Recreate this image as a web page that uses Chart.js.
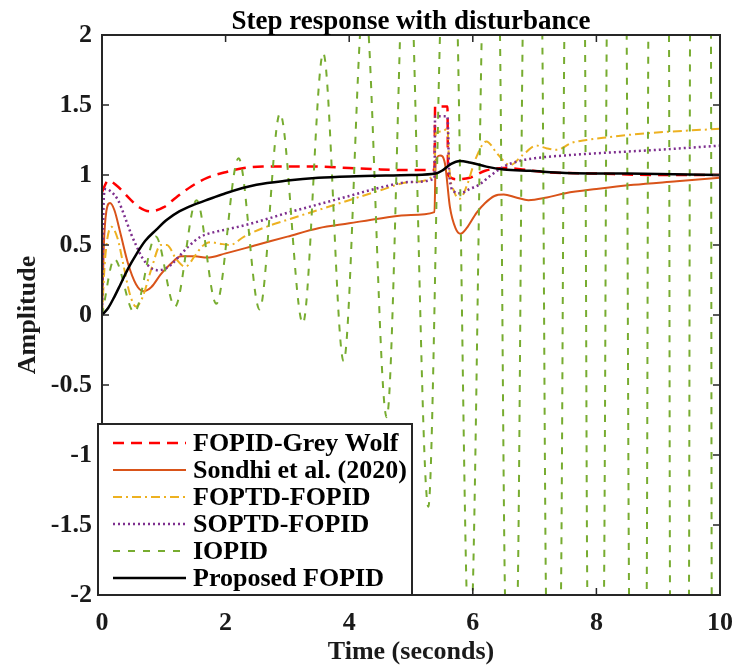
<!DOCTYPE html>
<html>
<head>
<meta charset="utf-8">
<title>Step response with disturbance</title>
<script src="https://cdn.jsdelivr.net/npm/chart.js@4.4.1/dist/chart.umd.min.js"></script>
<style>
  body { margin: 0; background: #fff; }
  canvas { display: block; }
</style>
</head>
<body>
<canvas id="grafico" width="732" height="665"></canvas>
<script>
const seriesNames = [
  "FOPID-Grey Wolf",
  "Sondhi et al. (2020)",
  "FOPTD-FOPID",
  "SOPTD-FOPID",
  "IOPID",
  "Proposed FOPID"
];

const xTicks = [0, 2, 4, 6, 8, 10];
const yTicks = [-2, -1.5, -1, -0.5, 0, 0.5, 1, 1.5, 2];

// FOPID-Grey Wolf
const tGreyWolf = [0, 0.1, 0.25, 0.45, 0.6, 0.78, 1.0, 1.2, 1.45, 1.7, 2.0, 2.3, 2.6, 3.0, 3.5, 4.0, 4.5, 5.0, 5.38, 5.39, 5.59, 5.6, 5.75, 5.95, 6.2, 6.5, 6.8, 7.2, 8.0, 9.0, 10];
const yGreyWolf = [0.88, 0.96, 0.92, 0.83, 0.77, 0.74, 0.77, 0.84, 0.92, 0.98, 1.02, 1.05, 1.06, 1.06, 1.06, 1.05, 1.04, 1.035, 1.035, 1.49, 1.49, 1.0, 0.97, 0.98, 1.03, 1.05, 1.04, 1.02, 1.01, 1.0, 1.0];

// Sondhi et al. (2020)
const tSondhi = [0, 0.03, 0.07, 0.13, 0.2, 0.3, 0.42, 0.55, 0.67, 0.8, 0.95, 1.1, 1.28, 1.5, 1.7, 2.0, 2.5, 3.0, 3.5, 4.0, 4.5, 5.0, 5.38, 5.4, 5.47, 5.55, 5.63, 5.72, 5.8, 5.9, 6.06, 6.2, 6.35, 6.5, 6.7, 6.9, 7.2, 7.5, 8.0, 8.6, 9.3, 10];
const ySondhi = [0, 0.5, 0.74, 0.80, 0.75, 0.58, 0.37, 0.22, 0.17, 0.2, 0.29, 0.36, 0.42, 0.42, 0.41, 0.44, 0.50, 0.56, 0.62, 0.655, 0.69, 0.715, 0.735, 1.10, 1.14, 1.08, 0.77, 0.62, 0.58, 0.62, 0.73, 0.80, 0.85, 0.86, 0.84, 0.82, 0.84, 0.87, 0.90, 0.93, 0.955, 0.98];

// FOPTD-FOPID
const tFoptd = [0, 0.05, 0.15, 0.25, 0.35, 0.45, 0.55, 0.65, 0.8, 0.95, 1.05, 1.2, 1.35, 1.5, 1.62, 1.75, 1.9, 2.07, 2.3, 2.6, 3.0, 3.5, 4.0, 4.5, 5.0, 5.38, 5.4, 5.5, 5.59, 5.62, 5.7, 5.79, 5.9, 6.05, 6.22, 6.4, 6.6, 6.8, 7.03, 7.2, 7.36, 7.6, 7.84, 8.2, 8.6, 9.2, 10];
const yFoptd = [0, 0.4, 0.63, 0.55, 0.35, 0.15, 0.06, 0.12, 0.33, 0.50, 0.50, 0.40, 0.345, 0.42, 0.49, 0.52, 0.51, 0.50, 0.56, 0.62, 0.68, 0.75, 0.82, 0.89, 0.95, 1.0, 1.30, 1.31, 1.33, 1.05, 0.88, 0.83, 0.92, 1.12, 1.24, 1.15, 1.07, 1.14, 1.21, 1.19, 1.18, 1.23, 1.25, 1.27, 1.29, 1.31, 1.33];

// SOPTD-FOPID
const tSoptd = [0, 0.03, 0.06, 0.15, 0.26, 0.37, 0.47, 0.56, 0.65, 0.78, 0.9, 1.02, 1.12, 1.25, 1.4, 1.6, 1.8, 2.0, 2.3, 2.7, 3.0, 3.5, 4.0, 4.5, 5.0, 5.38, 5.39, 5.59, 5.62, 5.7, 5.8, 5.95, 6.1, 6.3, 6.5, 6.75, 7.0, 7.5, 8.0, 9.0, 10];
const ySoptd = [0, 0.85, 0.90, 0.88, 0.82, 0.70, 0.58, 0.49, 0.41, 0.34, 0.32, 0.33, 0.36, 0.42, 0.49, 0.56, 0.59, 0.61, 0.64, 0.69, 0.73, 0.79, 0.85, 0.91, 0.95, 0.975, 1.42, 1.42, 1.0, 0.88, 0.87, 0.90, 0.93, 1.0, 1.06, 1.10, 1.12, 1.14, 1.155, 1.18, 1.21];

// IOPID (grows past the axis limits after t = 5.3)
const tIopid = [0, 0.2, 0.52, 0.87, 1.18, 1.53, 1.85, 2.21, 2.55, 2.88, 3.25, 3.58, 3.91, 4.245, 4.607, 4.935, 5.28,
  5.469, 5.615, 5.756, 5.901, 5.95, 5.998, 6.144, 6.29, 6.44, 6.521, 6.62, 6.726, 6.807, 6.97, 7.125, 7.184, 7.31, 7.427,
  7.481, 7.65, 7.816, 7.853, 7.99, 8.123, 8.167, 8.33, 8.49, 8.528, 8.67, 8.814, 8.84, 9.01, 9.175, 9.191, 9.35, 9.498,
  9.515, 9.68, 9.854, 9.866, 10];
const yIopid = [0, 0.40, 0.02, 0.56, 0.06, 0.82, 0.08, 1.12, 0.04, 1.44, -0.06, 1.87, -0.33, 2.3, -0.73, 3.0, -1.37,
  2.0, 4.2, 2.0, -2.0, -2.3, -2.0, 2.0, 5.0, 2.0, -2.0, -2.8, -2.0, 2.0, 5.5, 2.0, -2.0, -3.5, -2.0,
  2.0, 6.0, 2.0, -2.0, -4.0, -2.0, 2.0, 7.0, 2.0, -2.0, -5.0, -2.0, 2.0, 8.0, 2.0, -2.0, -6.0, -2.0,
  2.0, 9.0, 2.0, -2.0, -7.0];

// Proposed FOPID
const tProposed = [0, 0.1, 0.2, 0.3, 0.42, 0.55, 0.7, 0.88, 1.05, 1.25, 1.5, 1.75, 2.0, 2.5, 3.0, 3.5, 4.0, 5.0, 5.4, 5.5, 5.65, 5.79, 5.95, 6.22, 6.5, 6.93, 7.5, 8.5, 10];
const yProposed = [0, 0.05, 0.13, 0.22, 0.33, 0.43, 0.53, 0.61, 0.68, 0.74, 0.79, 0.83, 0.87, 0.93, 0.96, 0.98, 0.99, 1.0, 1.01, 1.03, 1.08, 1.10, 1.09, 1.06, 1.04, 1.03, 1.015, 1.01, 1.0];

const fonte = "'Liberation Serif', 'Times New Roman', serif";
const corEixo = "#262626";

function pontos(t, y) {
  return t.map((x, i) => ({ x: x, y: y[i] }));
}

const estilos = [
  { cor: "#ff0000", largura: 2.5, traco: [11, 7] },
  { cor: "#d95319", largura: 2, traco: [] },
  { cor: "#edb120", largura: 2, traco: [9, 4, 2, 4] },
  { cor: "#7e2f8e", largura: 2.5, traco: [2, 3] },
  { cor: "#77ac30", largura: 2, traco: [7, 8] },
  { cor: "#000000", largura: 2.5, traco: [] }
];

const series = [
  pontos(tGreyWolf, yGreyWolf),
  pontos(tSondhi, ySondhi),
  pontos(tFoptd, yFoptd),
  pontos(tSoptd, ySoptd),
  pontos(tIopid, yIopid),
  pontos(tProposed, yProposed)
];

const datasets = series.map((data, i) => ({
  label: seriesNames[i],
  data: data,
  borderColor: estilos[i].cor,
  borderWidth: estilos[i].largura,
  borderDash: estilos[i].traco,
  pointRadius: 0,
  fill: false,
  cubicInterpolationMode: "monotone",
  order: series.length - i
}));

// box, inner ticks, legend and title drawn the MATLAB way
const moldura = {
  id: "moldura",
  beforeDraw(chart) {
    const ctx = chart.ctx;
    ctx.save();
    ctx.fillStyle = "#ffffff";
    ctx.fillRect(0, 0, chart.width, chart.height);
    ctx.restore();
  },
  afterDatasetsDraw(chart) {
    const ctx = chart.ctx;
    const area = chart.chartArea;
    const sx = chart.scales.x;
    const sy = chart.scales.y;
    const tam = 7;

    ctx.save();
    ctx.strokeStyle = corEixo;
    ctx.lineWidth = 1.5;
    ctx.setLineDash([]);
    ctx.beginPath();
    xTicks.forEach(v => {
      const px = sx.getPixelForValue(v);
      ctx.moveTo(px, area.bottom);
      ctx.lineTo(px, area.bottom - tam);
      ctx.moveTo(px, area.top);
      ctx.lineTo(px, area.top + tam);
    });
    yTicks.forEach(v => {
      const py = sy.getPixelForValue(v);
      ctx.moveTo(area.left, py);
      ctx.lineTo(area.left + tam, py);
      ctx.moveTo(area.right, py);
      ctx.lineTo(area.right - tam, py);
    });
    ctx.stroke();

    ctx.lineWidth = 2;
    ctx.strokeRect(area.left, area.top, area.right - area.left, area.bottom - area.top);

    // legend
    const lx = area.left - 4;
    const lw = 314;
    const lh = 171;
    const ly = area.bottom - lh;
    ctx.fillStyle = "#ffffff";
    ctx.fillRect(lx, ly, lw, lh);
    ctx.strokeStyle = corEixo;
    ctx.lineWidth = 2;
    ctx.strokeRect(lx, ly, lw, lh);

    ctx.font = "bold 26px " + fonte;
    ctx.textBaseline = "middle";
    ctx.textAlign = "left";
    seriesNames.forEach((nome, i) => {
      const yy = ly + 19 + i * 27;
      ctx.strokeStyle = estilos[i].cor;
      ctx.lineWidth = estilos[i].largura;
      ctx.setLineDash(estilos[i].traco);
      ctx.beginPath();
      ctx.moveTo(lx + 15, yy);
      ctx.lineTo(lx + 88, yy);
      ctx.stroke();
      ctx.setLineDash([]);
      ctx.fillStyle = "#000000";
      ctx.fillText(nome, lx + 95, yy + 1);
    });

    // title
    ctx.font = "bold 27px " + fonte;
    ctx.textAlign = "center";
    ctx.textBaseline = "alphabetic";
    ctx.fillStyle = "#000000";
    ctx.fillText("Step response with disturbance", (area.left + area.right) / 2, 29);
    ctx.restore();
  }
};

new Chart(document.getElementById("grafico"), {
  type: "line",
  data: { datasets: datasets },
  options: {
    responsive: false,
    animation: false,
    devicePixelRatio: 1,
    layout: { padding: { top: 35, right: 0, left: 0, bottom: 0 } },
    plugins: {
      legend: { display: false },
      tooltip: { enabled: false },
      title: { display: false }
    },
    scales: {
      x: {
        type: "linear",
        min: 0,
        max: 10,
        afterFit: s => { s.height = 70; s.paddingRight = 12; s.paddingLeft = 0; },
        afterBuildTicks: s => { s.ticks = xTicks.map(v => ({ value: v })); },
        grid: { display: false, drawTicks: false },
        border: { display: false },
        ticks: {
          padding: 13,
          color: "#1a1a1a",
          font: { family: fonte, size: 26, weight: "bold" },
          maxRotation: 0,
          autoSkip: false,
          callback: v => String(v)
        },
        title: {
          display: true,
          text: "Time (seconds)",
          color: "#1a1a1a",
          font: { family: fonte, size: 26, weight: "bold", lineHeight: 1 },
          padding: { top: 0, bottom: 0 }
        }
      },
      y: {
        min: -2,
        max: 2,
        afterFit: s => { s.width = 102; s.paddingTop = 0; s.paddingBottom = 0; },
        afterBuildTicks: s => { s.ticks = yTicks.map(v => ({ value: v })); },
        grid: { display: false, drawTicks: false },
        border: { display: false },
        ticks: {
          padding: 10,
          color: "#1a1a1a",
          font: { family: fonte, size: 26, weight: "bold" },
          autoSkip: false,
          callback: v => String(v)
        },
        title: {
          display: true,
          text: "Amplitude",
          color: "#1a1a1a",
          font: { family: fonte, size: 26, weight: "bold", lineHeight: 1 },
          padding: { top: 15, bottom: 0 }
        }
      }
    }
  },
  plugins: [moldura]
});
</script>
</body>
</html>
